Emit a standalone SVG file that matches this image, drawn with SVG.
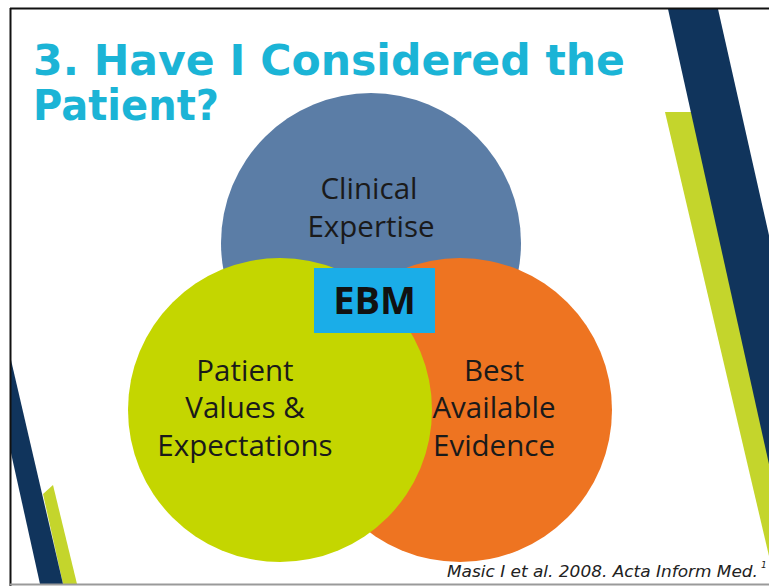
<svg xmlns="http://www.w3.org/2000/svg" width="769" height="586" viewBox="0 0 769 586">
<style>
.title{font-family:"DejaVu Sans",Verdana,sans-serif;font-weight:bold;font-size:42px;fill:#1BB4D6}
.lbl{font-family:"Open Sans","Liberation Sans",sans-serif;font-size:29.5px;fill:#1a1a1a;text-anchor:middle}
.ebm{font-family:"Open Sans","Liberation Sans",sans-serif;font-weight:bold;font-size:38px;fill:#111;text-anchor:middle}
.cite{font-family:"DejaVu Sans",Verdana,sans-serif;font-style:italic;font-size:15px;fill:#222}
.navy{fill:#10345C}
.lime{fill:#C4D52C}
</style>
<rect x="0" y="0" width="769" height="586" fill="#ffffff"/>
<g id="decor">
<polygon class="lime" points="665,112 730,112 860,586 776,586"/>
<polygon class="navy" points="668,9 718,9 848,586 796,586"/>
<polygon class="lime" points="43,494 53,485 77,584 63,584"/>
<polygon class="navy" points="11,360 63,584 40,584 11,453"/>
<line x1="10" y1="8.5" x2="769" y2="8.5" stroke="#111" stroke-width="2"/>
<line x1="10.5" y1="8" x2="10.5" y2="586" stroke="#111" stroke-width="2"/>
<line x1="10" y1="584.5" x2="769" y2="584.5" stroke="#9a9a9a" stroke-width="2"/>
</g>
<g id="title">
<text class="title" x="33" y="75" textLength="592" lengthAdjust="spacingAndGlyphs">3. Have I Considered the</text>
<text class="title" x="33" y="120" textLength="186" lengthAdjust="spacingAndGlyphs">Patient?</text>
</g>
<g id="connectors"></g>
<g id="clinical">
<circle cx="371" cy="243" r="150" fill="#5B7DA6"/>
</g>
<g id="evidence">
<circle cx="460" cy="410" r="152" fill="#EE7421"/>
</g>
<g id="patient">
<circle cx="280" cy="410" r="152" fill="#C4D600"/>
</g>
<g id="clinical-label">
<text class="lbl" x="369" y="199">Clinical</text>
<text class="lbl" x="371" y="237">Expertise</text>
</g>
<g id="patient-label">
<text class="lbl" x="245" y="381">Patient</text>
<text class="lbl" x="245" y="418">Values &amp;</text>
<text class="lbl" x="245" y="456">Expectations</text>
</g>
<g id="evidence-label">
<text class="lbl" x="494" y="381">Best</text>
<text class="lbl" x="494" y="418">Available</text>
<text class="lbl" x="494" y="456">Evidence</text>
</g>
<g id="ebm">
<rect x="314" y="268" width="121" height="65" fill="#1AADE8"/>
<text class="ebm" x="374.5" y="314">EBM</text>
</g>
<g id="citation">
<text class="cite" x="447" y="577" textLength="311" lengthAdjust="spacingAndGlyphs">Masic I et al. 2008. Acta Inform Med.</text>
<text class="cite" x="761" y="568" style="font-size:9px">1</text>
</g>
</svg>
